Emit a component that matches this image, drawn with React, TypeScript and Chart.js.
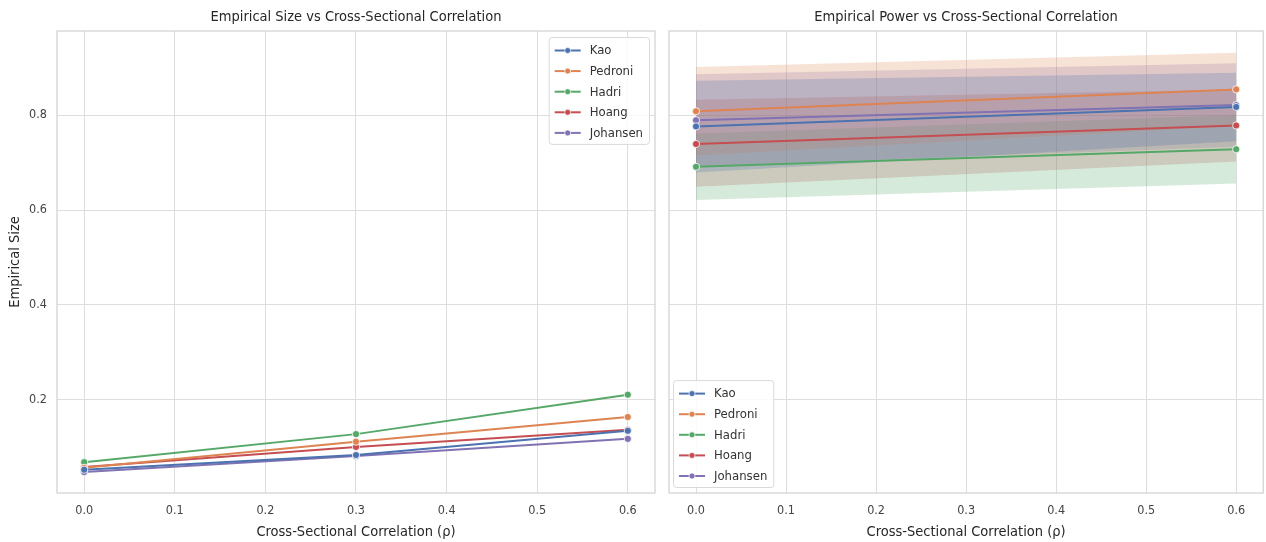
import React, { useEffect, useRef } from "react";
import { Chart, registerables } from "chart.js";

Chart.register(...registerables);

// ---------- data ----------
const seriesNames = ["Kao", "Pedroni", "Hadri", "Hoang", "Johansen"];
const seriesColors = ["#4c72b0", "#dd8452", "#55a868", "#c44e52", "#8172b3"];

const rhoSize = [0.0, 0.3, 0.6];
const sizeKao = [0.053, 0.084, 0.135];
const sizePedroni = [0.057, 0.112, 0.164];
const sizeHadri = [0.069, 0.128, 0.211];
const sizeHoang = [0.059, 0.101, 0.137];
const sizeJohansen = [0.048, 0.082, 0.118];

const rhoPower = [0.0, 0.6];
const powerKao = [0.776, 0.817];
const powerKaoLow = [0.679, 0.745];
const powerKaoHigh = [0.872, 0.889];
const powerPedroni = [0.808, 0.854];
const powerPedroniLow = [0.715, 0.777];
const powerPedroniHigh = [0.901, 0.931];
const powerHadri = [0.691, 0.728];
const powerHadriLow = [0.621, 0.656];
const powerHadriHigh = [0.761, 0.8];
const powerHoang = [0.739, 0.778];
const powerHoangLow = [0.649, 0.702];
const powerHoangHigh = [0.832, 0.854];
const powerJohansen = [0.789, 0.821];
const powerJohansenLow = [0.692, 0.733];
const powerJohansenHigh = [0.886, 0.909];

const xTicks = [0.0, 0.1, 0.2, 0.3, 0.4, 0.5, 0.6];
const yTicks = [0.2, 0.4, 0.6, 0.8];
const xLimits = [-0.03, 0.63];
const yLimits = [0.004, 0.977];

const titleSize = "Empirical Size vs Cross-Sectional Correlation";
const titlePower = "Empirical Power vs Cross-Sectional Correlation";
const xLabel = "Cross-Sectional Correlation (ρ)";
const yLabel = "Empirical Size";

const sizeSeries = [sizeKao, sizePedroni, sizeHadri, sizeHoang, sizeJohansen];
const powerSeries = [powerKao, powerPedroni, powerHadri, powerHoang, powerJohansen];
const powerLow = [powerKaoLow, powerPedroniLow, powerHadriLow, powerHoangLow, powerJohansenLow];
const powerHigh = [powerKaoHigh, powerPedroniHigh, powerHadriHigh, powerHoangHigh, powerJohansenHigh];

// ---------- helpers ----------
const FONT = "'DejaVu Sans Condensed', 'DejaVu Sans', sans-serif";

function rgba(hex: string, a: number) {
  const n = parseInt(hex.slice(1), 16);
  return `rgba(${(n >> 16) & 255},${(n >> 8) & 255},${n & 255},${a})`;
}

const decorPlugin = {
  id: "decor",
  beforeDatasetsDraw(chart: any) {
    const { ctx, chartArea: a } = chart;
    ctx.save();
    ctx.strokeStyle = "#d0d0d0";
    ctx.lineWidth = 1.2;
    ctx.strokeRect(a.left, a.top, a.right - a.left, a.bottom - a.top);
    ctx.restore();
  },
  afterDraw(chart: any, _args: any, opts: any) {
    const { ctx, chartArea: a } = chart;
    ctx.save();
    // title
    ctx.fillStyle = "#262626";
    ctx.font = `14.5px ${FONT}`;
    ctx.textAlign = "center";
    ctx.textBaseline = "middle";
    ctx.fillText(opts.title, (a.left + a.right) / 2, 17.5);

    // legend
    ctx.font = `13px ${FONT}`;
    const pad = 6;
    const lineLen = 26;
    const gap = 9;
    const rowH = 20.6;
    let maxW = 0;
    seriesNames.forEach((n) => (maxW = Math.max(maxW, ctx.measureText(n).width)));
    const w = pad + lineLen + gap + maxW + pad;
    const h = 13.5 + 4 * rowH + 11;
    let bx: number, by: number;
    if (opts.corner === "topRight") {
      bx = a.right - 6 - w;
      by = a.top + 6;
    } else {
      bx = a.left + 4;
      by = a.bottom - 6 - h;
    }
    ctx.beginPath();
    (ctx as any).roundRect(bx + 0.5, by + 0.5, w, h, 3);
    ctx.fillStyle = "rgba(255,255,255,0.85)";
    ctx.fill();
    ctx.strokeStyle = "#d9d9d9";
    ctx.lineWidth = 1;
    ctx.stroke();
    seriesNames.forEach((n, i) => {
      const cy = by + 13.5 + i * rowH;
      const lx = bx + pad;
      ctx.strokeStyle = seriesColors[i];
      ctx.lineWidth = 2;
      ctx.beginPath();
      ctx.moveTo(lx, cy);
      ctx.lineTo(lx + lineLen, cy);
      ctx.stroke();
      ctx.beginPath();
      ctx.arc(lx + lineLen / 2, cy, 3, 0, Math.PI * 2);
      ctx.fillStyle = seriesColors[i];
      ctx.fill();
      ctx.strokeStyle = "#fff";
      ctx.lineWidth = 0.7;
      ctx.stroke();
      ctx.fillStyle = "#333";
      ctx.textAlign = "left";
      ctx.textBaseline = "middle";
      ctx.fillText(n, lx + lineLen + gap, cy + 0.5);
    });
    ctx.restore();
  },
};

function buildConfig(kind: "size" | "power"): any {
  const isSize = kind === "size";
  const xs = isSize ? rhoSize : rhoPower;
  const means = isSize ? sizeSeries : powerSeries;

  const datasets: any[] = seriesNames.map((name, i) => ({
    label: name,
    data: xs.map((x, j) => ({ x, y: means[i][j] })),
    borderColor: seriesColors[i],
    backgroundColor: seriesColors[i],
    borderWidth: 2,
    pointRadius: 3.6,
    pointBackgroundColor: seriesColors[i],
    pointBorderColor: "#ffffff",
    pointBorderWidth: 0.8,
    fill: false,
    tension: 0,
    order: 0,
  }));

  if (!isSize) {
    seriesNames.forEach((name, i) => {
      datasets.push({
        label: name + " low",
        data: xs.map((x, j) => ({ x, y: powerLow[i][j] })),
        borderColor: "rgba(0,0,0,0)",
        borderWidth: 0,
        pointRadius: 0,
        fill: false,
        order: 1,
      });
      datasets.push({
        label: name + " high",
        data: xs.map((x, j) => ({ x, y: powerHigh[i][j] })),
        borderColor: "rgba(0,0,0,0)",
        backgroundColor: rgba(seriesColors[i], 0.24),
        borderWidth: 0,
        pointRadius: 0,
        fill: "-1",
        order: 1,
      });
    });
  }

  return {
    type: "line",
    data: { datasets },
    plugins: [decorPlugin],
    options: {
      responsive: false,
      animation: false,
      devicePixelRatio: 1,
      events: [],
      layout: { padding: { left: 0, right: isSize ? 7 : 1, top: 31, bottom: 0 } },
      plugins: {
        legend: { display: false },
        title: { display: false },
        tooltip: { enabled: false },
        filler: { drawTime: "beforeDatasetsDraw" },
        decor: { title: isSize ? titleSize : titlePower, corner: isSize ? "topRight" : "bottomLeft" },
      },
      scales: {
        x: {
          type: "linear",
          min: xLimits[0],
          max: xLimits[1],
          afterBuildTicks: (s: any) => {
            s.ticks = xTicks.map((v) => ({ value: v }));
          },
          afterFit: (s: any) => {
            s.height = 49;
          },
          grid: { color: "#dedede", lineWidth: 1, drawTicks: false },
          border: { display: false },
          ticks: {
            padding: 10,
            color: "#444",
            font: { size: 12.5, family: FONT },
            callback: (v: any) => Number(v).toFixed(1),
            maxRotation: 0,
          },
          title: {
            display: true,
            text: xLabel,
            color: "#262626",
            font: { size: 14.5, family: FONT },
            padding: { top: 0, bottom: 1 },
          },
        },
        y: {
          type: "linear",
          min: yLimits[0],
          max: yLimits[1],
          afterBuildTicks: (s: any) => {
            s.ticks = yTicks.map((v) => ({ value: v }));
          },
          afterFit: (s: any) => {
            s.width = isSize ? 57 : 7;
          },
          grid: { color: "#dedede", lineWidth: 1, drawTicks: false },
          border: { display: false },
          ticks: {
            display: isSize,
            padding: 10,
            color: "#444",
            font: { size: 12.5, family: FONT },
            callback: (v: any) => Number(v).toFixed(1),
          },
          title: {
            display: isSize,
            text: yLabel,
            color: "#262626",
            font: { size: 14.5, family: FONT },
            padding: { top: 7, bottom: 0 },
          },
        },
      },
    },
  };
}

export default function App() {
  const leftRef = useRef<HTMLCanvasElement>(null);
  const rightRef = useRef<HTMLCanvasElement>(null);

  useEffect(() => {
    Chart.defaults.font.family = FONT;
    const c1 = new Chart(leftRef.current as HTMLCanvasElement, buildConfig("size"));
    const c2 = new Chart(rightRef.current as HTMLCanvasElement, buildConfig("power"));
    return () => {
      c1.destroy();
      c2.destroy();
    };
  }, []);

  return (
    <div
      style={{
        position: "absolute",
        left: 0,
        top: 0,
        width: 1266,
        height: 542,
        overflow: "hidden",
        background: "#ffffff",
      }}
    >
      <canvas ref={leftRef} width={662} height={542} style={{ position: "absolute", left: 0, top: 0 }} />
      <canvas ref={rightRef} width={606} height={542} style={{ position: "absolute", left: 662, top: 0 }} />
    </div>
  );
}
